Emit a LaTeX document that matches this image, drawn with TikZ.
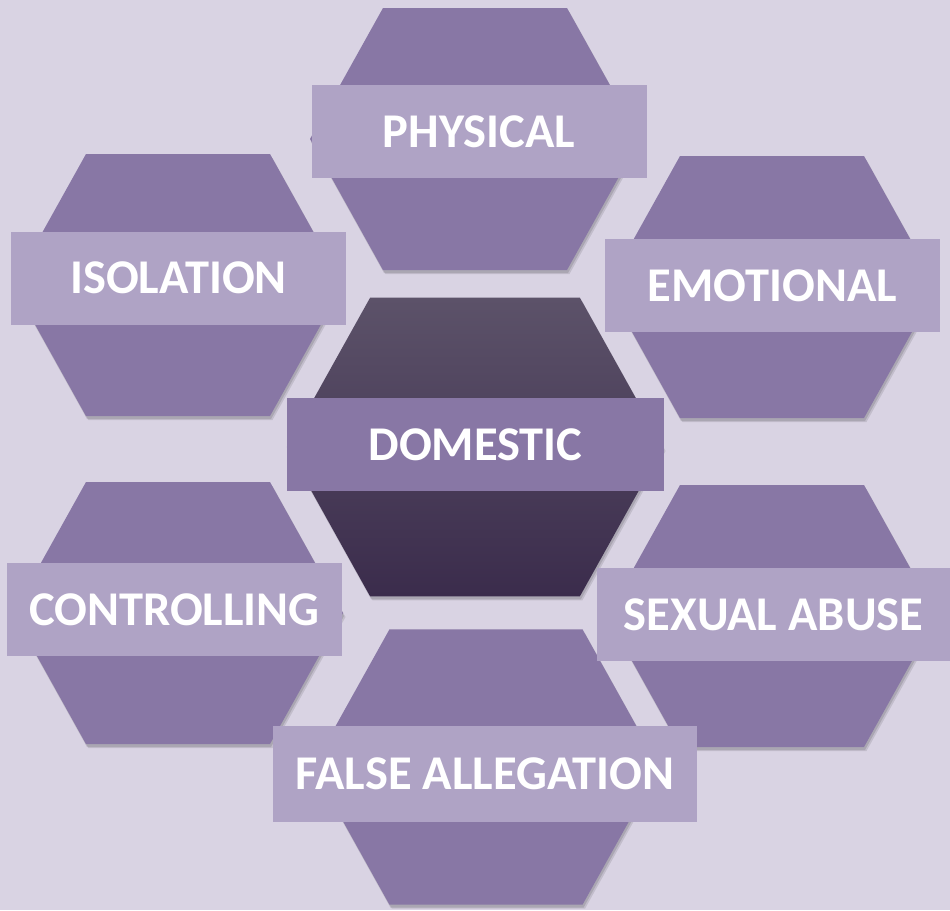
\documentclass[tikz,border=0pt]{standalone}
\usepackage{fontspec}
\setmainfont{Carlito}
\usetikzlibrary{shadows}

\definecolor{bgcol}{HTML}{D9D3E3}
\definecolor{hexcol}{HTML}{8877A5}
\definecolor{bandcol}{HTML}{AFA3C5}
\definecolor{coretop}{HTML}{5C5269}
\definecolor{corebot}{HTML}{3B2C4C}

\begin{document}
\begin{tikzpicture}[x=1pt, y=-1pt,
  softshadow/.style={drop shadow={shadow xshift=1pt, shadow yshift=-3pt, fill=black, opacity=0.12},
    drop shadow={shadow xshift=2.5pt, shadow yshift=-4pt, fill=black, opacity=0.1}},
  hexfill/.style={fill=hexcol, softshadow},
  corefill/.style={top color=coretop, bottom color=corebot, softshadow},
  hexa/.pic={\path[#1] (-165,0) -- (-92,-131) -- (92,-131) -- (165,0) -- (92,131) -- (-92,131) -- cycle;},
  band/.style={fill=bandcol, text=white, minimum height=93pt, minimum width=335pt, inner sep=0pt,
    font=\fontsize{48.5}{58}\selectfont\bfseries}]

  % Background
  \path[use as bounding box, fill=bgcol] (0,0) rectangle (950,910);

  % Outer hexagons
  \pic at (475,139) {hexa=hexfill};
  \pic at (178,285) {hexa=hexfill};
  \pic at (772,287) {hexa=hexfill};
  \pic at (178,613) {hexa=hexfill};
  \pic at (772,616) {hexa=hexfill};
  \pic[scale=1.05] at (486,767) {hexa=hexfill};

  % Centre hexagon
  \pic[scale=1.14] at (475,447) {hexa=corefill};

  % Labels
  \node[band] (physical) at (479,131.5) {PHYSICAL};
  \node[band] (isolation) at (178.5,278) {ISOLATION};
  \node[band] (emotional) at (772.5,285.5) {EMOTIONAL};
  \node[band] (controlling) at (174.5,609.5) {CONTROLLING};
  \node[band, minimum width=353pt] (sexual) at (773.5,614.5) {SEXUAL ABUSE};
  \node[band, minimum width=424pt, minimum height=96pt] (false) at (485,774) {FALSE ALLEGATION};
  \node[band, fill=hexcol, minimum width=377pt] (domestic) at (475.5,444.5) {DOMESTIC};

\end{tikzpicture}
\end{document}
